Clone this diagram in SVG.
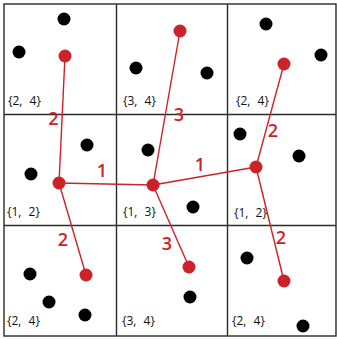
<svg xmlns="http://www.w3.org/2000/svg" width="337" height="339" viewBox="0 0 337 339">
<style>
.grid{stroke:#2a2a2a;stroke-width:1.4;fill:none}
.edge{stroke:#cc2229;stroke-width:1.4;fill:none}
.b{fill:#000}
.r{fill:#cc2229}
.lbl{font-family:"Open Sans","Liberation Sans",sans-serif;font-size:12px;fill:#111;word-spacing:4px}
.w{font-family:"Open Sans","Liberation Sans",sans-serif;font-size:18px;font-weight:600;fill:#cc2229;text-anchor:middle}
</style>
<rect x="0" y="0" width="337" height="339" fill="#fff"/>
<g id="grid" class="grid">
<rect x="4" y="4" width="332" height="332"/>
<line x1="116.5" y1="4" x2="116.5" y2="336"/>
<line x1="227.5" y1="4" x2="227.5" y2="336"/>
<line x1="4" y1="114.5" x2="336" y2="114.5"/>
<line x1="4" y1="225.5" x2="336" y2="225.5"/>
</g>
<g id="connectors" class="edge">
<line x1="65" y1="56" x2="59" y2="183"/>
<line x1="180" y1="31" x2="153" y2="185"/>
<line x1="284" y1="64" x2="256" y2="167"/>
<line x1="59" y1="183" x2="153" y2="185"/>
<line x1="153" y1="185" x2="256" y2="167"/>
<line x1="59" y1="183" x2="86" y2="275"/>
<line x1="153" y1="185" x2="189" y2="267"/>
<line x1="256" y1="167" x2="284" y2="281"/>
</g>
<g id="weights" class="w">
<text x="53.5" y="125">2</text>
<text x="179" y="121">3</text>
<text x="273" y="137">2</text>
<text x="102" y="177">1</text>
<text x="200" y="171">1</text>
<text x="63" y="246">2</text>
<text x="167" y="250">3</text>
<text x="281" y="244">2</text>
</g>
<g id="cell-0-0">
<circle class="b" cx="64" cy="19" r="6.5"/>
<circle class="b" cx="19" cy="52" r="6.5"/>
<circle class="r" cx="65" cy="56" r="6.5"/>
<text class="lbl" x="8" y="105">{2, 4}</text>
</g>
<g id="cell-1-0">
<circle class="r" cx="180" cy="31" r="6.5"/>
<circle class="b" cx="136" cy="68" r="6.5"/>
<circle class="b" cx="207" cy="73" r="6.5"/>
<text class="lbl" x="123" y="105">{3, 4}</text>
</g>
<g id="cell-2-0">
<circle class="b" cx="266" cy="24" r="6.5"/>
<circle class="b" cx="321" cy="55" r="6.5"/>
<circle class="r" cx="284" cy="64" r="6.5"/>
<text class="lbl" x="236" y="105">{2, 4}</text>
</g>
<g id="cell-0-1">
<circle class="b" cx="87" cy="145" r="6.5"/>
<circle class="b" cx="31" cy="174" r="6.5"/>
<circle class="r" cx="59" cy="183" r="6.5"/>
<text class="lbl" x="7" y="216">{1, 2}</text>
</g>
<g id="cell-1-1">
<circle class="b" cx="148" cy="150" r="6.5"/>
<circle class="b" cx="193" cy="207" r="6.5"/>
<circle class="r" cx="153" cy="185" r="6.5"/>
<text class="lbl" x="123" y="216">{1, 3}</text>
</g>
<g id="cell-2-1">
<circle class="b" cx="240" cy="134" r="6.5"/>
<circle class="b" cx="299" cy="156" r="6.5"/>
<circle class="r" cx="256" cy="167" r="6.5"/>
<text class="lbl" x="234" y="217">{1, 2}</text>
</g>
<g id="cell-0-2">
<circle class="b" cx="30" cy="274" r="6.5"/>
<circle class="b" cx="49" cy="302" r="6.5"/>
<circle class="b" cx="85" cy="315" r="6.5"/>
<circle class="r" cx="86" cy="275" r="6.5"/>
<text class="lbl" x="7" y="325">{2, 4}</text>
</g>
<g id="cell-1-2">
<circle class="r" cx="189" cy="267" r="6.5"/>
<circle class="b" cx="190" cy="297" r="6.5"/>
<text class="lbl" x="122" y="325">{3, 4}</text>
</g>
<g id="cell-2-2">
<circle class="b" cx="247" cy="258" r="6.5"/>
<circle class="r" cx="284" cy="281" r="6.5"/>
<circle class="b" cx="303" cy="326" r="6.5"/>
<text class="lbl" x="232" y="325">{2, 4}</text>
</g>
</svg>
